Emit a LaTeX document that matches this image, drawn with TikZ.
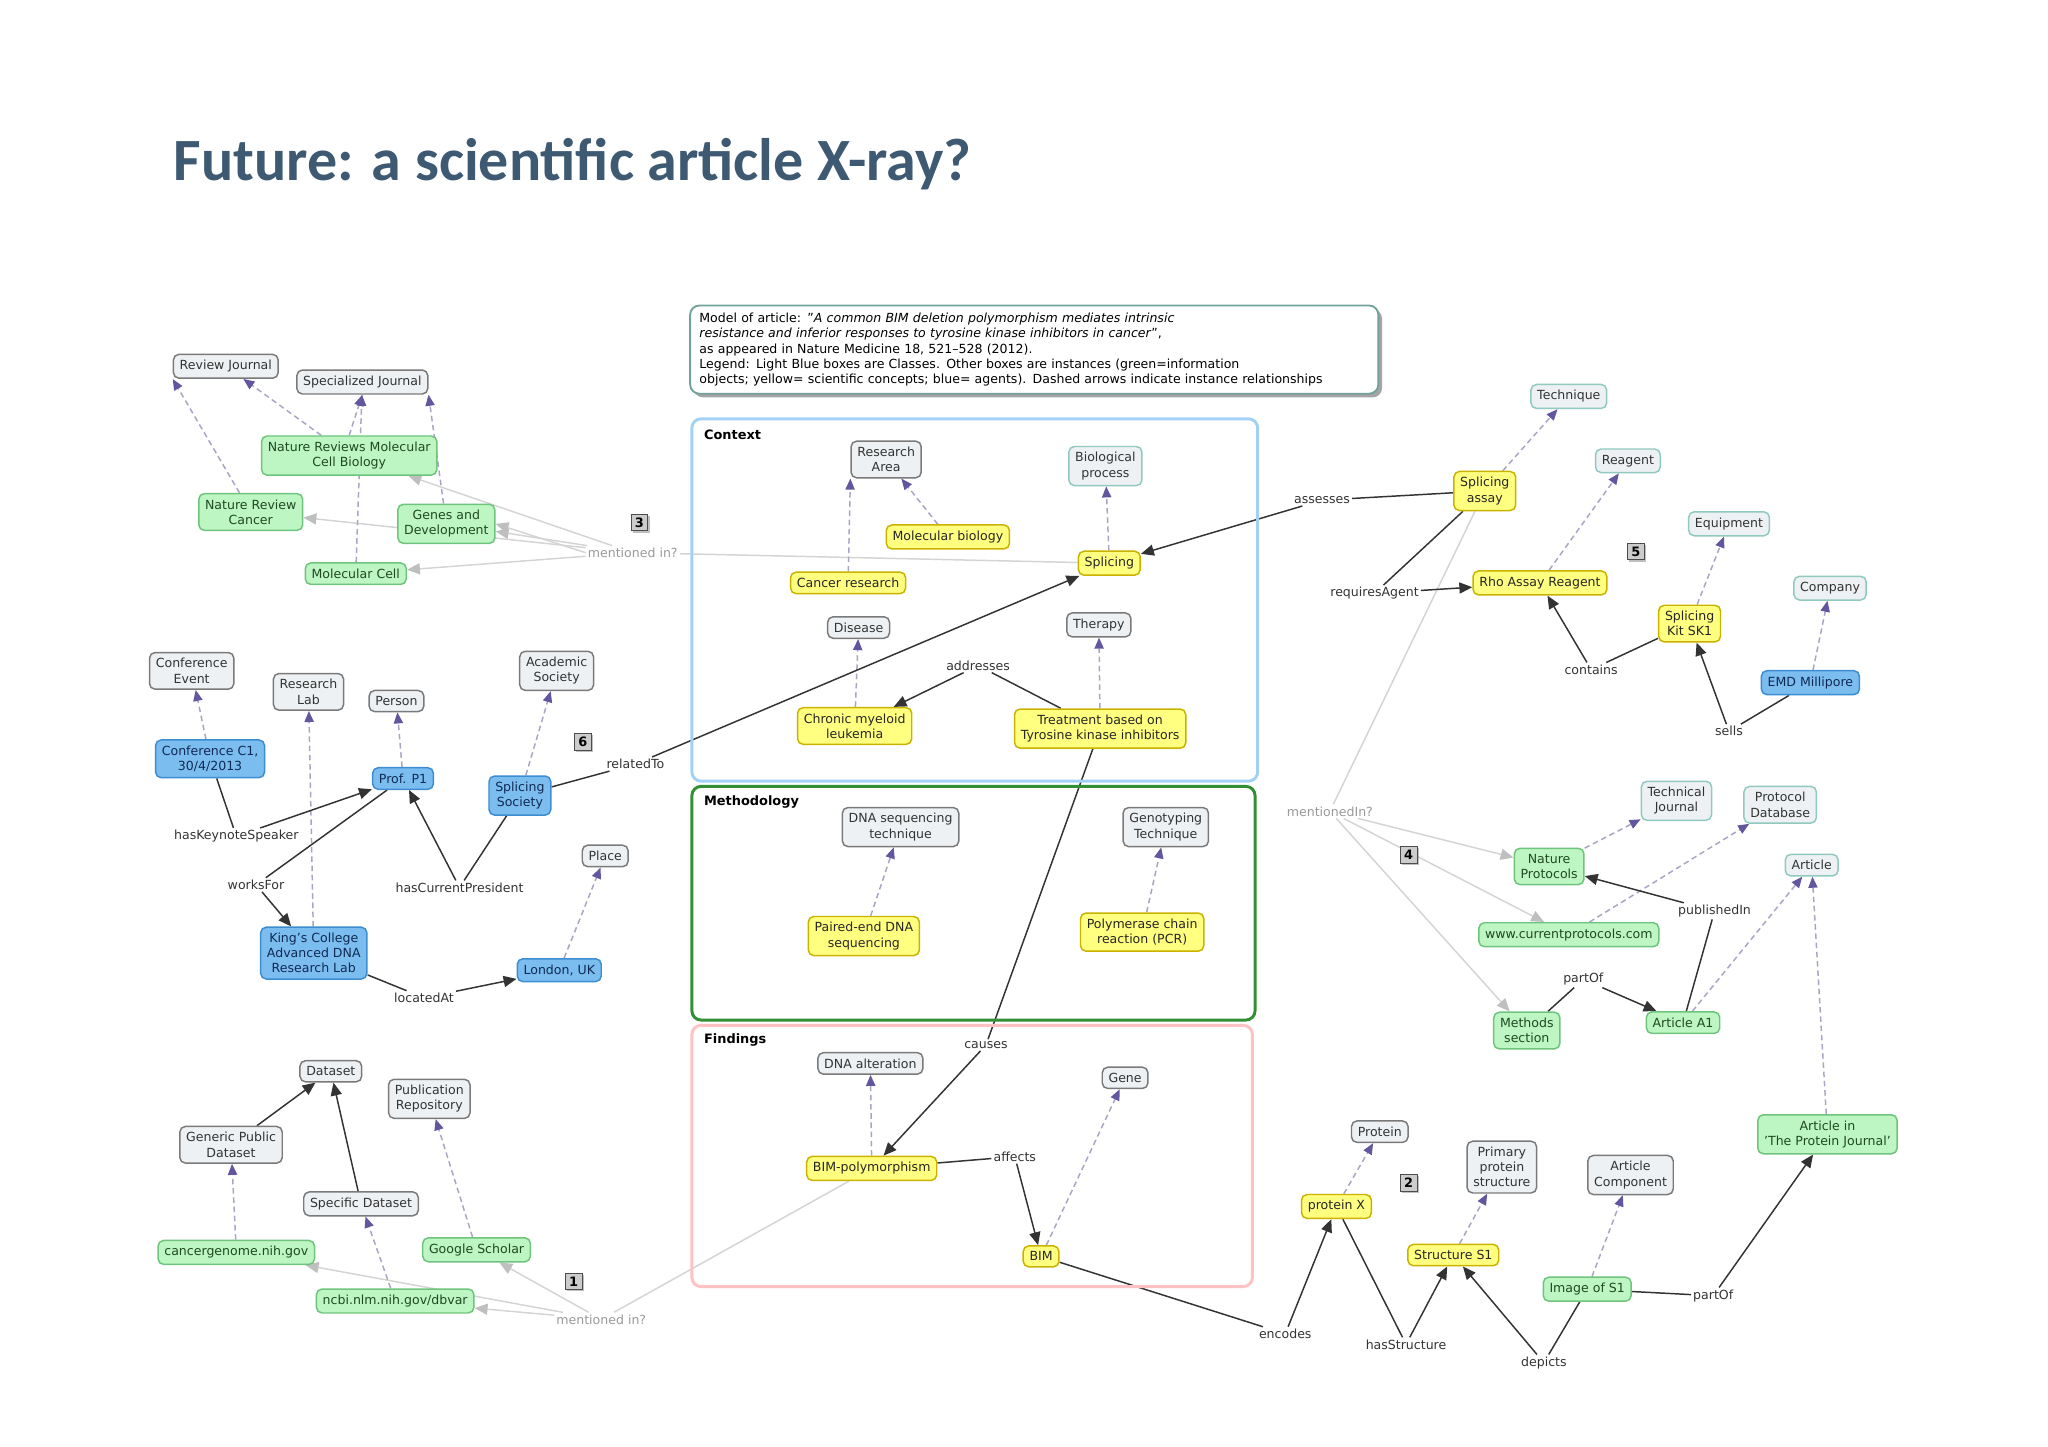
\documentclass[tikz,border=0pt]{standalone}
\usepackage{fontspec}
\setmainfont{DejaVu Sans}
\newfontfamily\titlefont{Carlito}
\usetikzlibrary{arrows.meta,shadows}
\pgfdeclarelayer{bg}\pgfsetlayers{bg,main}
\definecolor{clsfill}{HTML}{EEF1F4}
\definecolor{clsdraw}{HTML}{7A7A7A}
\definecolor{tealdraw}{HTML}{8FC9BF}
\definecolor{grnfill}{HTML}{BDF5C3}
\definecolor{grndraw}{HTML}{6EC47C}
\definecolor{grntext}{HTML}{1F4A22}
\definecolor{yelfill}{HTML}{FFFF80}
\definecolor{yeldraw}{HTML}{C9B200}
\definecolor{blufill}{HTML}{7CBDF0}
\definecolor{bludraw}{HTML}{3C8CD2}
\definecolor{blutext}{HTML}{102A55}
\definecolor{instline}{HTML}{A9A4C4}
\definecolor{insthead}{HTML}{62579E}
\definecolor{mentline}{HTML}{D4D4D4}
\definecolor{titlecol}{HTML}{3D5A72}
\tikzset{
 x=0.025cm,y=-0.025cm,
 base/.style={rounded corners=3pt,align=center,inner xsep=3.4pt,inner ysep=3.2pt,font=\fontsize{6.8}{8.2}\selectfont,line width=0.8pt},
 cls/.style={base,fill=clsfill,draw=clsdraw,text=black!80},
 clst/.style={base,fill=clsfill,draw=tealdraw,text=black!80},
 grn/.style={base,fill=grnfill,draw=grndraw,text=grntext},
 yel/.style={base,fill=yelfill,draw=yeldraw,text=black!85},
 blu/.style={base,fill=blufill,draw=bludraw,text=blutext},
 lab/.style={font=\fontsize{6.8}{8}\selectfont,inner sep=1pt,text=black!80},
 mlab/.style={font=\fontsize{6.8}{8}\selectfont,inner sep=1pt,text=black!40},
 badge/.style={draw=black!70,fill=black!20,font=\bfseries\fontsize{7}{8}\selectfont,inner sep=1.5pt,minimum size=9pt,drop shadow={shadow xshift=1pt,shadow yshift=-1pt}},
 inst/.style={draw=instline,line width=0.8pt,dash pattern=on 3pt off 2pt,-{Triangle[length=6pt,width=5pt,color=insthead,fill=insthead]}},
 rel/.style={draw=black!80,line width=0.8pt,-{Triangle[length=7pt,width=6pt]}},
 rell/.style={draw=black!80,line width=0.8pt},
 ment/.style={draw=mentline,line width=0.8pt,-{Triangle[length=7pt,width=6pt,color=mentline!90!black]}},
 mentl/.style={draw=mentline,line width=0.8pt},
 frm/.style={rounded corners=5pt,line width=1.6pt},
 ftitle/.style={font=\bfseries\fontsize{7}{8}\selectfont,anchor=west,inner sep=0pt}
}
\begin{document}
\begin{tikzpicture}
\useasboundingbox (0,0) rectangle (1560,1102);
\node[anchor=west,inner sep=0pt,text=titlecol,font=\titlefont\bfseries\fontsize{32.5}{36}\selectfont] (title) at (132,125) {Future: a scientific article X-ray?};
% model box
\node[draw=tealdraw!80!black,line width=1pt,fill=white,rounded corners=5pt,anchor=north west,text width=12.75cm,align=left,inner xsep=5pt,inner ysep=4pt,font=\fontsize{6.8}{8.3}\selectfont,drop shadow={shadow xshift=2pt,shadow yshift=-2pt,fill=black!70}] (model) at (525,232) {Model of article: "\textit{A common BIM deletion polymorphism mediates intrinsic}\\
\textit{resistance and inferior responses to tyrosine kinase inhibitors in cancer}",\\
as appeared in Nature Medicine 18, 521--528 (2012).\\
Legend: Light Blue boxes are Classes. Other boxes are instances (green=information\\
objects; yellow= scientific concepts; blue= agents). Dashed arrows indicate instance relationships};
% frames
\draw[frm,draw=blufill!70] (527,319) rectangle (958,595);
\draw[frm,draw=green!45!black!80] (527,599) rectangle (956,777);
\draw[frm,draw=pink!80!red!60] (527,781) rectangle (954,980);
\node[ftitle] (fctx) at (536,331) {Context};
\node[ftitle] (fmeth) at (536,611) {Methodology};
\node[ftitle] (ffind) at (536,792) {Findings};
% context
\node[cls] (resarea) at (675,350) {Research\\Area};
\node[clst] (bioproc) at (842,355) {Biological\\process};
\node[yel] (molbio) at (722,409) {Molecular biology};
\node[yel] (splicing) at (845,429) {Splicing};
\node[yel] (cancerres) at (646,444) {Cancer research};
\node[cls] (disease) at (654,478) {Disease};
\node[cls] (therapy) at (837,476) {Therapy};
\node[yel] (cml) at (651,553) {Chronic myeloid\\leukemia};
\node[yel] (tki) at (838,555) {Treatment based on\\Tyrosine kinase inhibitors};
\node[lab] (addresses) at (745,507) {addresses};
% methodology
\node[cls] (dnaseq) at (686,630) {DNA sequencing\\technique};
\node[cls] (genotech) at (888,630) {Genotyping\\Technique};
\node[yel] (paired) at (658,713) {Paired-end DNA\\sequencing};
\node[yel] (pcr) at (870,710) {Polymerase chain\\reaction (PCR)};
% findings
\node[cls] (dnaalt) at (663,810) {DNA alteration};
\node[cls] (gene) at (857,821) {Gene};
\node[yel] (bimpoly) at (664,890) {BIM-polymorphism};
\node[yel] (bim) at (793,957) {BIM};
\node[lab] (causes) at (751,796) {causes};
\node[lab] (affects) at (773,881) {affects};
% left top
\node[cls] (reviewj) at (172,279) {Review Journal};
\node[cls] (specj) at (276,291) {Specialized Journal};
\node[grn] (nrmcb) at (266,347) {Nature Reviews Molecular\\Cell Biology};
\node[grn] (nrc) at (191,390) {Nature Review\\Cancer};
\node[grn] (genesdev) at (340,399) {Genes and\\Development};
\node[grn] (molcell) at (271,437) {Molecular Cell};
\node[badge] (b3) at (487,398) {3};
\node[mlab] (ment3) at (482,421) {mentioned in?};
% left middle
\node[cls] (confev) at (146,511) {Conference\\Event};
\node[cls] (reslab) at (235,527) {Research\\Lab};
\node[cls] (person) at (302,534) {Person};
\node[cls] (acadsoc) at (424,511) {Academic\\Society};
\node[blu] (confc1) at (160,578) {Conference C1,\\30/4/2013};
\node[blu] (profp1) at (307,593) {Prof. P1};
\node[blu] (splsoc) at (396,606) {Splicing\\Society};
\node[cls] (place) at (461,652) {Place};
\node[badge] (b6) at (444,565) {6};
\node[lab] (relatedto) at (484,582) {relatedTo};
\node[lab] (keynote) at (180,637) {hasKeynoteSpeaker};
\node[lab] (worksfor) at (195,674) {worksFor};
\node[lab] (haspres) at (350,676) {hasCurrentPresident};
\node[blu] (kcl) at (239,726) {King's College\\Advanced DNA\\Research Lab};
\node[blu] (london) at (426,739) {London, UK};
\node[lab] (locatedat) at (323,760) {locatedAt};
% left bottom
\node[cls] (dataset) at (252,816) {Dataset};
\node[cls] (pubrepo) at (327,837) {Publication\\Repository};
\node[cls] (genpub) at (176,872) {Generic Public\\Dataset};
\node[cls] (specdata) at (275,917) {Specific Dataset};
\node[grn] (cancergen) at (180,954) {cancergenome.nih.gov};
\node[grn] (google) at (363,952) {Google Scholar};
\node[grn] (ncbi) at (301,991) {ncbi.nlm.nih.gov/dbvar};
\node[badge] (b1) at (437,976) {1};
\node[mlab] (ment1) at (458,1005) {mentioned in?};
% right top
\node[clst] (technique) at (1195,302) {Technique};
\node[clst] (reagent) at (1240,351) {Reagent};
\node[clst] (equipment) at (1317,399) {Equipment};
\node[clst] (company) at (1394,448) {Company};
\node[yel] (splassay) at (1131,374) {Splicing\\assay};
\node[lab] (assesses) at (1007,381) {assesses};
\node[lab] (reqagent) at (1047,452) {requiresAgent};
\node[yel] (rho) at (1173,444) {Rho Assay Reagent};
\node[badge] (b5) at (1246,420) {5};
\node[yel] (sk1) at (1287,475) {Splicing\\Kit SK1};
\node[lab] (contains) at (1212,510) {contains};
\node[blu] (emd) at (1379,520) {EMD Millipore};
\node[lab] (sells) at (1317,557) {sells};
% right middle
\node[mlab] (ment2) at (1013,618) {mentionedIn?};
\node[badge] (b4) at (1073,651) {4};
\node[clst] (techj) at (1277,610) {Technical\\Journal};
\node[clst] (protdb) at (1356,613) {Protocol\\Database};
\node[grn] (natprot) at (1180,660) {Nature\\Protocols};
\node[clst] (article) at (1380,659) {Article};
\node[grn] (curprot) at (1195,712) {www.currentprotocols.com};
\node[lab] (pubin) at (1306,694) {publishedIn};
\node[grn] (methods) at (1163,785) {Methods\\section};
\node[grn] (articlea1) at (1282,779) {Article A1};
\node[lab] (partof1) at (1206,746) {partOf};
% right bottom
\node[cls] (protein) at (1051,862) {Protein};
\node[cls] (primstruct) at (1144,889) {Primary\\protein\\structure};
\node[cls] (artcomp) at (1242,895) {Article\\Component};
\node[grn] (artprot) at (1392,864) {Article in\\'The Protein Journal'};
\node[yel] (proteinx) at (1018,919) {protein X};
\node[badge] (b2) at (1073,901) {2};
\node[yel] (structs1) at (1107,956) {Structure S1};
\node[grn] (imgs1) at (1209,982) {Image of S1};
\node[lab] (encodes) at (979,1016) {encodes};
\node[lab] (hasstruct) at (1071,1024) {hasStructure};
\node[lab] (depicts) at (1176,1038) {depicts};
\node[lab] (partof2) at (1305,987) {partOf};

\begin{pgfonlayer}{bg}
% mention lines
\draw[mentl] (splicing) -- (ment3);
\draw[ment] (ment3) -- (genesdev);
\draw[ment] (ment3.west) -- (genesdev.east);
\draw[ment] (ment3) -- (molcell);
\draw[ment] (ment3) -- (nrc);
\draw[ment] (ment3) -- (nrmcb);
\draw[mentl] (bimpoly) -- (ment1);
\draw[ment] (ment1) -- (ncbi);
\draw[ment] (ment1) -- (google);
\draw[ment] (ment1) -- (cancergen);
\draw[mentl] (splassay) -- (ment2);
\draw[ment] (ment2) -- (natprot);
\draw[ment] (ment2) -- (curprot);
\draw[ment] (ment2) -- (methods);
% instance
\draw[inst] (nrc) -- (reviewj.south west);
\draw[inst] (nrmcb) -- (reviewj);
\draw[inst] (nrmcb.north) -- (specj.south);
\draw[inst] (genesdev) -- (specj.south east);
\draw[inst] (molcell) -- (specj);
\draw[inst] (molbio) -- (resarea);
\draw[inst] (cancerres) -- (resarea.south west);
\draw[inst] (splicing) -- (bioproc);
\draw[inst] (cml) -- (disease);
\draw[inst] (tki) -- (therapy);
\draw[inst] (paired) -- (dnaseq);
\draw[inst] (pcr) -- (genotech);
\draw[inst] (bimpoly) -- (dnaalt);
\draw[inst] (bim) -- (gene);
\draw[inst] (confc1) -- (confev);
\draw[inst] (kcl) -- (reslab);
\draw[inst] (profp1) -- (person);
\draw[inst] (splsoc) -- (acadsoc);
\draw[inst] (london) -- (place);
\draw[inst] (cancergen) -- (genpub);
\draw[inst] (ncbi) -- (specdata);
\draw[inst] (google) -- (pubrepo);
\draw[inst] (splassay) -- (technique);
\draw[inst] (rho) -- (reagent);
\draw[inst] (sk1) -- (equipment);
\draw[inst] (emd) -- (company);
\draw[inst] (natprot) -- (techj);
\draw[inst] (curprot) -- (protdb);
\draw[inst] (articlea1) -- (article);
\draw[inst] (artprot) -- (article);
\draw[inst] (proteinx) -- (protein);
\draw[inst] (structs1) -- (primstruct);
\draw[inst] (imgs1) -- (artcomp);
% relations
\draw[rell] (tki) -- (addresses); \draw[rel] (addresses) -- (cml);
\draw[rell] (tki) -- (causes); \draw[rel] (causes) -- (bimpoly);
\draw[rell] (bimpoly) -- (affects); \draw[rel] (affects) -- (bim);
\draw[rell] (splsoc) -- (relatedto); \draw[rel] (relatedto) -- (splicing);
\draw[rell] (confc1) -- (keynote); \draw[rel] (keynote) -- (profp1);
\draw[rell] (profp1) -- (worksfor); \draw[rel] (worksfor) -- (kcl);
\draw[rell] (splsoc) -- (haspres); \draw[rel] (haspres) -- (profp1);
\draw[rell] (kcl) -- (locatedat); \draw[rel] (locatedat) -- (london);
\draw[rel] (genpub) -- (dataset);
\draw[rel] (specdata) -- (dataset);
\draw[rell] (splassay) -- (assesses); \draw[rel] (assesses) -- (splicing);
\draw[rell] (splassay) -- (reqagent); \draw[rel] (reqagent) -- (rho);
\draw[rell] (sk1) -- (contains); \draw[rel] (contains) -- (rho);
\draw[rell] (emd) -- (sells); \draw[rel] (sells) -- (sk1);
\draw[rell] (articlea1) -- (pubin); \draw[rel] (pubin) -- (natprot);
\draw[rell] (methods) -- (partof1); \draw[rel] (partof1) -- (articlea1);
\draw[rell] (bim) -- (encodes); \draw[rel] (encodes) -- (proteinx);
\draw[rell] (proteinx) -- (hasstruct); \draw[rel] (hasstruct) -- (structs1);
\draw[rell] (imgs1) -- (depicts); \draw[rel] (depicts) -- (structs1);
\draw[rell] (imgs1) -- (partof2); \draw[rel] (partof2) -- (artprot);
\end{pgfonlayer}
\end{tikzpicture}
\end{document}
